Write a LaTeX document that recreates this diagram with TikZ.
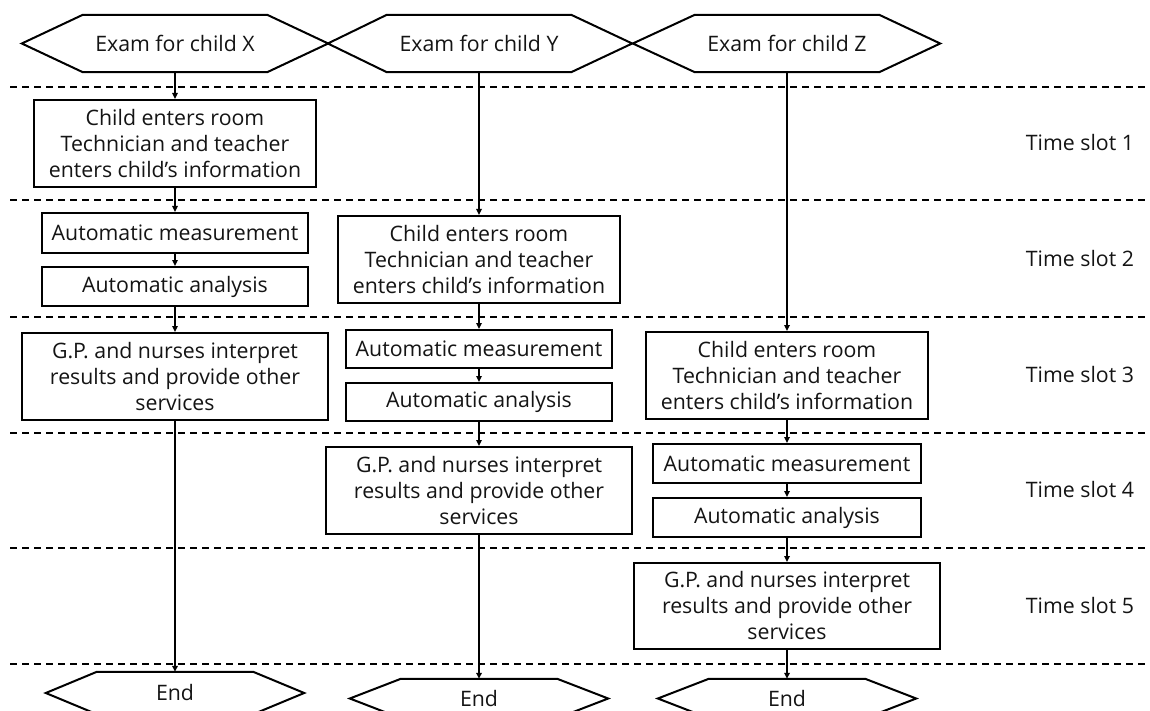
\documentclass[tikz,border=0pt]{standalone}
\usepackage{fontspec}
\setmainfont{Open Sans}
\usetikzlibrary{arrows.meta,calc}
\begin{document}
\begin{tikzpicture}[x=1pt,y=-1pt,
  every node/.style={font=\fontsize{21.3}{26}\selectfont, align=center, inner sep=0pt, text=black!92},
  procbox/.style={draw, line width=2pt},
  hexnode/.style={inner sep=0pt},
  arr/.style={line width=2pt, -{Triangle[length=6pt,width=5.5pt]}},
  sep/.style={line width=1.4pt, dash pattern=on 7pt off 5pt},
  hexline/.style={line width=2pt}]
\useasboundingbox (0,0) rectangle (1150,711);
\clip (0,0) rectangle (1150,711);
\fill[white] (0,0) rectangle (1150,711);

% separators
\foreach \yy in {87,200,317,433,548,664}
  \draw[sep] (10,\yy) -- (1150,\yy);

% start hexagons
\node[hexnode, minimum width=184pt, minimum height=57pt] (hx) at (175,43.5) {Exam for child X};
\node[hexnode, minimum width=184pt, minimum height=57pt] (hy) at (479,43.5) {Exam for child Y};
\node[hexnode, minimum width=184pt, minimum height=57pt] (hz) at (787,43.5) {Exam for child Z};
\draw[hexline] (hx.north west) -- (hx.north east) -- ($(hx.east)+(61,0)$) -- (hx.south east) -- (hx.south west) -- ($(hx.west)+(-61,0)$) -- cycle;
\draw[hexline] (hy.north west) -- (hy.north east) -- ($(hy.east)+(61,0)$) -- (hy.south east) -- (hy.south west) -- ($(hy.west)+(-59,0)$) -- cycle;
\draw[hexline] (hz.north west) -- (hz.north east) -- ($(hz.east)+(61,0)$) -- (hz.south east) -- (hz.south west) -- ($(hz.west)+(-62,0)$) -- cycle;

% column X
\node[procbox, minimum width=282pt, minimum height=87pt] (cX) at (175,143.5) {Child enters room\\Technician and teacher\\enters child's information};
\node[procbox, minimum width=266pt, minimum height=40pt] (mX) at (175,233) {Automatic measurement};
\node[procbox, minimum width=266pt, minimum height=39pt] (aX) at (175,286.5) {Automatic analysis};
\node[procbox, minimum width=306pt, minimum height=87pt] (gX) at (175,376.5) {G.P. and nurses interpret\\results and provide other\\services};
\node[hexnode, minimum width=156pt, minimum height=42pt] (eX) at (175,693) {End};
\draw[hexline] (eX.north west) -- (eX.north east) -- ($(eX.east)+(51,0)$) -- (eX.south east) -- (eX.south west) -- ($(eX.west)+(-51,0)$) -- cycle;

% column Y
\node[procbox, minimum width=282pt, minimum height=87pt] (cY) at (479,259.5) {Child enters room\\Technician and teacher\\enters child's information};
\node[procbox, minimum width=266pt, minimum height=38pt] (mY) at (479,349) {Automatic measurement};
\node[procbox, minimum width=266pt, minimum height=38pt] (aY) at (479,402) {Automatic analysis};
\node[procbox, minimum width=306pt, minimum height=87pt] (gY) at (479,490.5) {G.P. and nurses interpret\\results and provide other\\services};
\node[hexnode, minimum width=156pt, minimum height=39pt] (eY) at (479,698.5) {End};
\draw[hexline] (eY.north west) -- (eY.north east) -- ($(eY.east)+(51,0)$) -- (eY.south east) -- (eY.south west) -- ($(eY.west)+(-51,0)$) -- cycle;

% column Z
\node[procbox, minimum width=282pt, minimum height=87pt] (cZ) at (787,375.5) {Child enters room\\Technician and teacher\\enters child's information};
\node[procbox, minimum width=268pt, minimum height=39pt] (mZ) at (787,463.5) {Automatic measurement};
\node[procbox, minimum width=268pt, minimum height=39pt] (aZ) at (787,517.5) {Automatic analysis};
\node[procbox, minimum width=306pt, minimum height=86pt] (gZ) at (787,606) {G.P. and nurses interpret\\results and provide other\\services};
\node[hexnode, minimum width=156pt, minimum height=39pt] (eZ) at (787,698.5) {End};
\draw[hexline] (eZ.north west) -- (eZ.north east) -- ($(eZ.east)+(51,0)$) -- (eZ.south east) -- (eZ.south west) -- ($(eZ.west)+(-51,0)$) -- cycle;

% time slots
\node (t1) at (1080,143) {Time slot 1};
\node (t2) at (1080,259) {Time slot 2};
\node (t3) at (1080,375) {Time slot 3};
\node (t4) at (1080,490) {Time slot 4};
\node (t5) at (1080,606) {Time slot 5};

% connectors
\draw[arr] (hx.south) -- (cX.north);
\draw[arr] (cX.south) -- (mX.north);
\draw[arr] (mX.south) -- (aX.north);
\draw[arr] (aX.south) -- (gX.north);
\draw[arr] (gX.south) -- (eX.north);

\draw[arr] (hy.south) -- (cY.north);
\draw[arr] (cY.south) -- (mY.north);
\draw[arr] (mY.south) -- (aY.north);
\draw[arr] (aY.south) -- (gY.north);
\draw[arr] (gY.south) -- (eY.north);

\draw[arr] (hz.south) -- (cZ.north);
\draw[arr] (cZ.south) -- (mZ.north);
\draw[arr] (mZ.south) -- (aZ.north);
\draw[arr] (aZ.south) -- (gZ.north);
\draw[arr] (gZ.south) -- (eZ.north);
\end{tikzpicture}
\end{document}
